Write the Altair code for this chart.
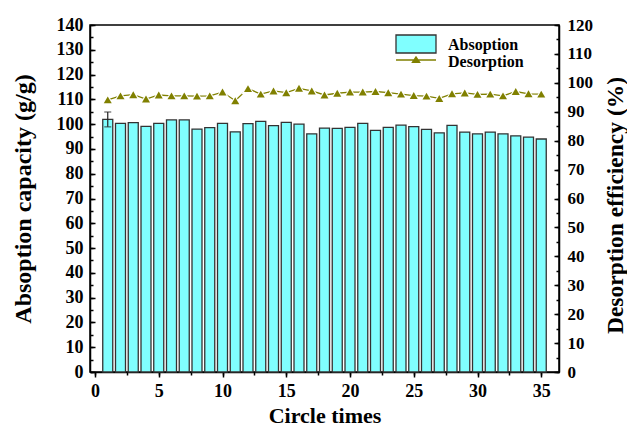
import altair as alt
import pandas as pd

cycles = list(range(1, 36))
absorption = [101.9, 100.3, 100.6, 99.1, 100.3, 101.7, 101.7, 98.0, 98.6, 100.3,
              96.9, 100.2, 101.1, 99.4, 100.7, 100.0, 96.1, 98.4, 98.3, 98.7,
              100.3, 97.5, 98.7, 99.6, 99.0, 97.9, 96.5, 99.5, 96.8, 96.1,
              96.8, 96.1, 95.3, 94.8, 94.0]
desorption = [94.1, 95.5, 95.9, 94.4, 95.8, 95.5, 95.5, 95.4, 95.5, 96.8,
              93.8, 98.0, 96.1, 97.2, 96.6, 98.1, 97.2, 95.8, 96.4, 96.8,
              96.8, 97.0, 96.6, 96.1, 95.6, 95.4, 94.6, 96.2, 96.5, 96.0,
              96.1, 95.5, 97.0, 96.2, 96.1]
err_cycle = [1]
err_low = [98.9]
err_high = [104.9]

x_major = list(range(0, 36, 5))
x_minor = [i * 2.5 for i in range(15)]
left_major = list(range(0, 141, 10))
left_minor = list(range(0, 141, 5))
right_major = list(range(0, 121, 10))
right_minor = list(range(0, 121, 5))

df = pd.DataFrame({"cycle": cycles, "absorption": absorption, "desorption": desorption,
                   "s1": ["Absoption"] * len(cycles), "s2": ["Desorption"] * len(cycles)})
err_df = pd.DataFrame({"cycle": err_cycle, "lo": err_low, "hi": err_high})

FONT = "Liberation Serif"
CYAN = "#80FFFF"
OLIVE = "#808000"
W, H = 469, 347

xscale = alt.Scale(domain=[0, 36], nice=False, zero=False)
lscale = alt.Scale(domain=[0, 140], nice=False)
rscale = alt.Scale(domain=[0, 120], nice=False)


def tick_axis(values, orient, size, offset=0):
    return alt.Axis(values=values, orient=orient, labels=False, domain=False,
                    tickSize=size, offset=offset, title=None)


def ghost(ycol, yscale, xaxis, yaxis):
    return alt.Chart(df).mark_point(opacity=0).encode(
        x=alt.X("cycle:Q", scale=xscale, axis=xaxis),
        y=alt.Y(f"{ycol}:Q", scale=yscale, axis=yaxis),
    )


bars = alt.Chart(df).mark_bar(size=10, fill=CYAN, stroke="#333333", strokeWidth=1.3).encode(
    x=alt.X("cycle:Q", scale=xscale,
            axis=alt.Axis(values=x_major, orient="bottom", tickSize=5, labelOverlap=False,
                          labelFlush=False, labelPadding=5, labelFontSize=18,
                          title="Circle times", titlePadding=5, titleFontSize=22)),
    y=alt.Y("absorption:Q", scale=lscale,
            axis=alt.Axis(values=left_major, orient="left", tickSize=0, tickOpacity=0,
                          labelOverlap=False, labelPadding=7, labelFontSize=18,
                          title="Absoption capacity (g/g)", titlePadding=21, titleFontSize=24)),
    fill=alt.Fill("s1:N", scale=alt.Scale(domain=["Absoption"], range=[CYAN]),
                  legend=alt.Legend(orient="none", legendX=305, legendY=-1, title=None,
                                    symbolType="M-1,-0.5H1V0.4H-1Z", symbolSize=1600,
                                    symbolStrokeColor="#333333", symbolStrokeWidth=1.3,
                                    labelOffset=11)),
)

left_g1 = ghost("absorption", lscale, tick_axis(x_minor, "bottom", 3),
                tick_axis(left_major, "right", 5, -W))
left_g2 = ghost("absorption", lscale, None, tick_axis(left_minor, "right", 3, -W))

err = alt.Chart(err_df).mark_errorbar(ticks={"size": 7}, color="#222222", thickness=1.2).encode(
    x=alt.X("cycle:Q", scale=xscale, axis=None),
    y=alt.Y("lo:Q", scale=lscale, axis=None),
    y2="hi:Q",
)

left = alt.layer(bars, left_g1, left_g2, err).resolve_axis(x="independent", y="independent")

line = alt.Chart(df).mark_line(strokeWidth=1.3).encode(
    x=alt.X("cycle:Q", scale=xscale, axis=None),
    y=alt.Y("desorption:Q", scale=rscale,
            axis=alt.Axis(values=right_major, orient="right", tickSize=0, tickOpacity=0,
                          labelOverlap=False, labelPadding=8, labelFontSize=17,
                          title="Desorption efficiency (%)", titleAngle=270,
                          titleBaseline="top", titlePadding=11, titleFontSize=23.5,
                          titleY=180)),
    stroke=alt.Stroke("s2:N", scale=alt.Scale(domain=["Desorption"], range=[OLIVE]),
                      legend=alt.Legend(orient="none", legendX=305, legendY=16, title=None,
                                        symbolType="M-1,-0.1H1M-0.18,0.02L0,-0.25L0.18,0.02Z",
                                        symbolSize=1600, symbolFillColor=OLIVE,
                                        symbolStrokeWidth=1.3, labelOffset=11)),
)

right_g1 = ghost("desorption", rscale, None, tick_axis(right_major, "left", 5, -W))
right_g2 = ghost("desorption", rscale, None, tick_axis(right_minor, "left", 3, -W))

pts_bg = alt.Chart(df).mark_point(shape="triangle-up", filled=True, size=170, color="white", opacity=1).encode(
    x=alt.X("cycle:Q", scale=xscale, axis=None),
    y=alt.Y("desorption:Q", scale=rscale, axis=None),
)
pts = alt.Chart(df).mark_point(shape="triangle-up", filled=True, size=64, color=OLIVE, opacity=1).encode(
    x=alt.X("cycle:Q", scale=xscale, axis=None),
    y=alt.Y("desorption:Q", scale=rscale, axis=None),
)

right = alt.layer(line, right_g1, right_g2, pts_bg, pts).resolve_axis(y="independent")

chart = alt.layer(left, right).resolve_scale(y="independent").properties(
    width=W, height=H,
    autosize=alt.AutoSizeParams(type="none"),
    padding={"left": 90, "top": 25, "right": 68, "bottom": 55},
).configure_view(stroke="black", strokeWidth=1.5).configure_axis(
    grid=False, domainColor="black", domainWidth=1.5, tickColor="black", tickWidth=1.5,
    labelFont=FONT, labelFontWeight="bold", labelFontSize=17, labelColor="black",
    titleFont=FONT, titleFontWeight="bold", titleFontSize=21, titleColor="black",
).configure_legend(
    padding=0, labelFont=FONT, labelFontWeight="bold", labelFontSize=16, labelColor="black",
)

chart.save("out.html", embed_options={"renderer": "svg", "actions": False})
